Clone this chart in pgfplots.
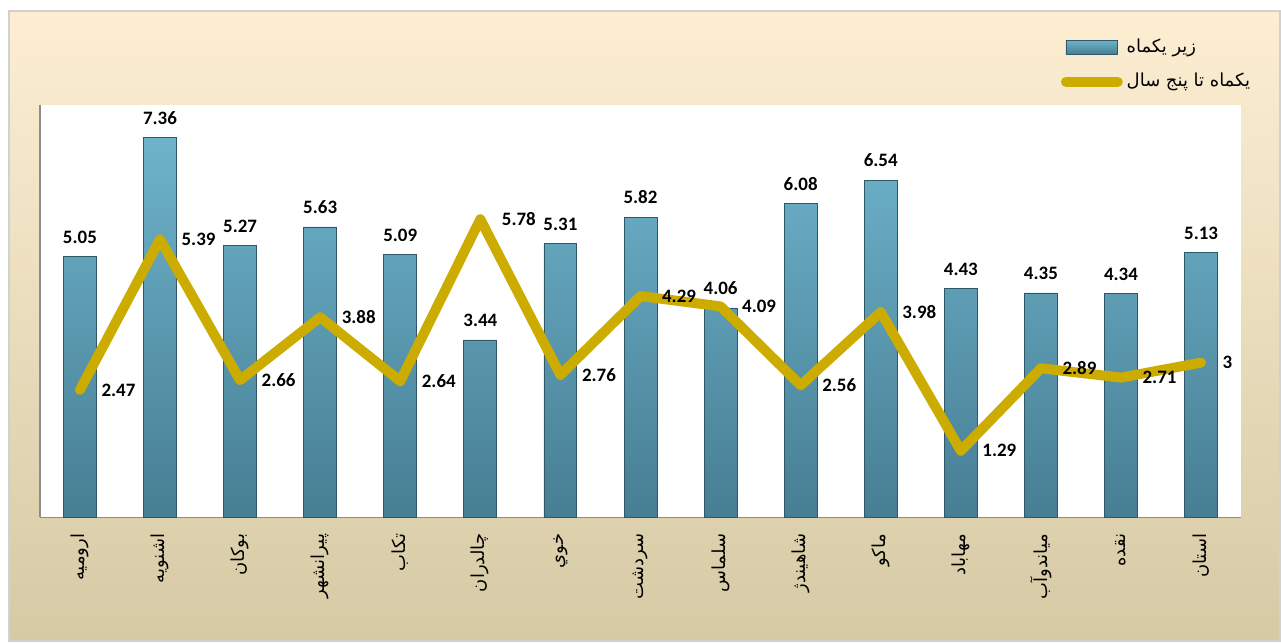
\documentclass[border=0pt]{standalone}
\usepackage{pgfplots}
\pgfplotsset{compat=1.18}
\usepackage{fontspec}
\setmainfont{Carlito}
\newfontfamily\arabicfont[Script=Arabic]{DejaVu Sans}
\TeXXeTstate=1
\definecolor{BarTop}{HTML}{6DB3CA}
\definecolor{BarBot}{HTML}{477E94}
\definecolor{BarEdge}{HTML}{2E5767}
\definecolor{LineC}{HTML}{CCAC00}
\definecolor{BgTop}{HTML}{FDEED3}
\definecolor{BgBot}{HTML}{D6CAA5}
\newcommand{\fa}[1]{{\arabicfont\beginR #1\endR}}

\pgfplotstableread{
x bar line
0  5.05 2.47
1  7.36 5.39
2  5.27 2.66
3  5.63 3.88
4  5.09 2.64
5  3.44 5.78
6  5.31 2.76
7  5.82 4.29
8  4.06 4.09
9  6.08 2.56
10 6.54 3.98
11 4.43 1.29
12 4.35 2.89
13 4.34 2.71
14 5.13 3
}\datatable

\begin{document}
\begin{tikzpicture}
% page and chart frame (1px = 0.5pt)
\fill[white] (0,0) rectangle (640.5pt,319.5pt);
\shade[top color=BgTop, bottom color=BgBot, draw=black!18, line width=1pt]
  (4.75pt,-2pt) rectangle (642pt,314pt);
\begin{axis}[
  at={(20pt,60pt)}, anchor=south west,
  scale only axis, width=602.5pt, height=207pt,
  xmin=-0.5, xmax=14.5, ymin=0, ymax=8,
  axis x line*=bottom, axis y line*=left,
  axis line style={draw=black!45, line width=0.8pt},
  axis background/.style={fill=white},
  ytick=\empty,
  xtick=data, major tick length=0pt,
  xticklabels={\fa{ارومیه},\fa{اشنویه},\fa{بوکان},\fa{پیرانشهر},\fa{تکاب},
    \fa{چالدران},\fa{خوي},\fa{سردشت},\fa{سلماس},\fa{شاهیندژ},\fa{ماکو},
    \fa{مهاباد},\fa{میاندوآب},\fa{نقده},\fa{استان}},
  xticklabel style={rotate=90, anchor=east, font=\fontsize{9}{10}\selectfont, inner sep=0pt, xshift=-8pt},
  /pgf/number format/assume math mode=true,
  legend style={at={(rel axis cs:1.016,1.18)}, anchor=north east,
    draw=none, fill=none, font=\fontsize{9}{11}\selectfont,
    row sep=5pt},
  legend cell align=left,
]
\addplot[ybar, bar width=16.5pt, draw=BarEdge, line width=0.4pt,
  top color=BarTop, bottom color=BarBot,
  nodes near coords,
  every node near coord/.append style={font=\fontsize{9.5}{11}\selectfont\bfseries, color=black, yshift=3pt},
  legend image code/.code={\draw[draw=BarEdge, top color=BarTop, bottom color=BarBot] (0pt,-3.5pt) rectangle (26pt,3.5pt);}]
  table[x=x, y=bar] {\datatable};
\addlegendentry{\fa{زیر یکماه}}
\addplot[color=LineC, line width=5pt, line join=round, line cap=round, mark=none,
  nodes near coords,
  every node near coord/.append style={font=\fontsize{9.5}{11}\selectfont\bfseries, color=black, anchor=west, xshift=5pt},
  legend image code/.code={\draw[color=LineC, line width=5pt, line cap=round] (0pt,0pt) -- (26pt,0pt);}]
  table[x=x, y=line] {\datatable};
\addlegendentry{\fa{یکماه تا پنج سال}}
\end{axis}
\end{tikzpicture}
\end{document}
